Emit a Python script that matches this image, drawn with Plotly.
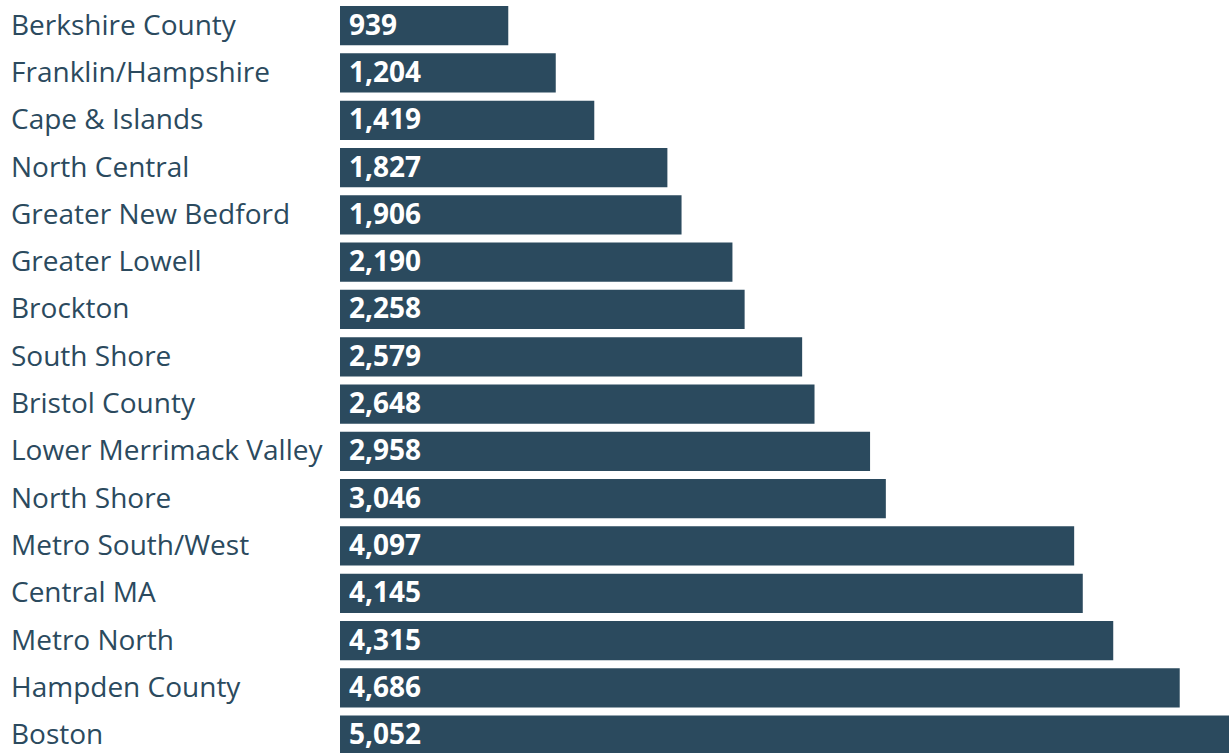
import plotly.graph_objects as go

regions = [
    "Berkshire County", "Franklin/Hampshire", "Cape & Islands", "North Central",
    "Greater New Bedford", "Greater Lowell", "Brockton", "South Shore",
    "Bristol County", "Lower Merrimack Valley", "North Shore", "Metro South/West",
    "Central MA", "Metro North", "Hampden County", "Boston",
]
counts = [939, 1204, 1419, 1827, 1906, 2190, 2258, 2579,
          2648, 2958, 3046, 4097, 4145, 4315, 4686, 5052]

BAR = "#2b4a5e"
FONT = "'Open Sans', 'Noto Sans', sans-serif"

fig = go.Figure(
    go.Bar(
        x=counts,
        y=regions,
        orientation="h",
        marker=dict(color=BAR, line=dict(width=0)),
        hoverinfo="skip",
    )
)

# value labels inside each bar, left-aligned
for r, c in zip(regions, counts):
    fig.add_annotation(
        x=0, y=r, xref="x", yref="y", text=f"<b>{c:,}</b>",
        showarrow=False, xanchor="left", xshift=7, yshift=2,
        font=dict(family=FONT, size=28, color="white"),
    )
    # region names, left-aligned at the page edge
    fig.add_annotation(
        x=0, y=r, xref="paper", yref="y", text=r,
        showarrow=False, xanchor="left", xshift=-331, yshift=2,
        font=dict(family=FONT, size=28, color=BAR),
    )

fig.update_layout(
    width=1229, height=753,
    margin=dict(l=340, r=0, t=0, b=0),
    plot_bgcolor="white", paper_bgcolor="white",
    bargap=0.17,
    showlegend=False,
    # the longest bar runs past the right edge of the page
    xaxis=dict(range=[0, 4961], visible=False, fixedrange=True),
    yaxis=dict(range=[15.377, -0.543], visible=False, fixedrange=True,
               categoryorder="array", categoryarray=regions),
)

fig.write_html("out.html", config={"displayModeBar": False})
